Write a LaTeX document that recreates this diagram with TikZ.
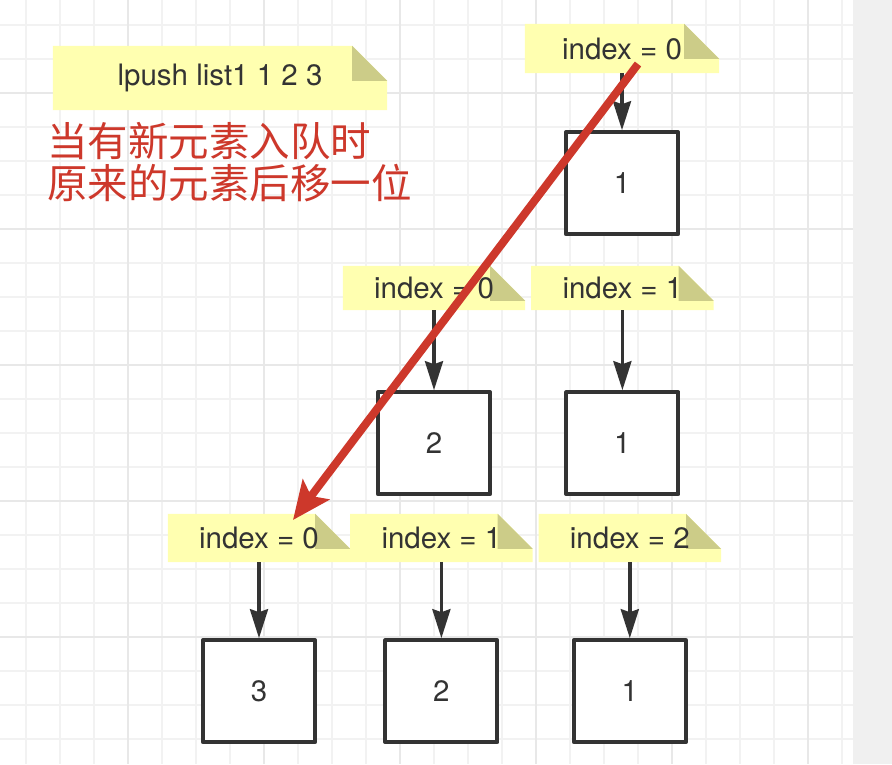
\documentclass[tikz,border=0pt]{standalone}
\usepackage{fontspec}
\setmainfont{TeX Gyre Heros}
\newfontfamily\cjkfont{Noto Sans CJK SC}
\usetikzlibrary{positioning,calc}
\usetikzlibrary{arrows.meta}
\definecolor{notefill}{HTML}{FFFFB0}
\definecolor{notefold}{HTML}{CCCC88}
\definecolor{darkline}{HTML}{333333}
\definecolor{hintred}{RGB}{205,56,43}
\definecolor{gridminor}{HTML}{F2F2F2}
\definecolor{gridmajor}{HTML}{E8E8E8}
\definecolor{panel}{HTML}{F0F0F0}
\pgfdeclarelayer{grid}
\pgfdeclarelayer{paper}
\pgfsetlayers{grid,paper,main}

\begin{document}
\begin{tikzpicture}[x=1pt,y=-1pt,
   note/.style={rectangle, inner sep=0pt, minimum width=182pt, minimum height=48pt,
      text=darkline, font=\fontsize{29.5}{35}\selectfont},
   cell/.style={rectangle, draw=darkline, line width=4pt, line join=round, fill=white,
      minimum width=112pt, minimum height=102pt, inner sep=0pt,
      text=darkline, font=\fontsize{29.5}{35}\selectfont},
   flow/.style={darkline, line width=3.5pt, -{Stealth[length=29pt,width=18pt,inset=3pt]}},
   push/.style={hintred, line width=8pt, -{Stealth[length=38pt,width=33pt,inset=8pt]}},
   hint/.style={inner sep=0pt, text=hintred, font=\cjkfont\fontsize{40.5}{48}\selectfont}]
   \useasboundingbox (0,0) rectangle (892,764);

   % command note and hint
   \node[note, minimum width=334pt, minimum height=64pt] (cmd) at (220,78) {lpush list1 1 2 3};
   \node[hint, anchor=base west] (h0) at (47,156) {当有新元素入队时};
   \node[hint, anchor=base west] (h1) at ($(h0.base west)+(0,42)$) {原来的元素后移一位};

   % after pushing 1
   \node[note, minimum width=194pt, minimum height=49pt] (i0) at (622,48.5) {index = 0};
   \node[cell, below=57pt of i0] (v0) {1};

   % after pushing 2
   \node[note, minimum height=44pt] (i10) at (434,288) {index = 0};
   \node[note, minimum height=44pt, right=6pt of i10] (i11) {index = 1};
   \node[cell, below=80pt of i10] (v10) {2};
   \node[cell, below=80pt of i11] (v11) {1};

   % after pushing 3
   \node[note] (i20) at (259,538) {index = 0};
   \node[note, right=0pt of i20] (i21) {index = 1};
   \node[note, right=6pt of i21] (i22) {index = 2};
   \node[cell, below=76pt of i20] (v20) {3};
   \node[cell, below=76pt of i21] (v21) {2};
   \node[cell, below=76pt of i22] (v22) {1};

   \draw[flow] (i0) -- (v0);
   \draw[flow] (i10) -- (v10);
   \draw[flow] (i11) -- (v11);
   \draw[flow] (i20) -- (v20);
   \draw[flow] (i21) -- (v21);
   \draw[flow] (i22) -- (v22);

   % new element enters at the head
   \coordinate (r0) at (638,64);
   \coordinate (r1) at (293,520);
   \draw[push] (r0) -- (r1);

   % folded notes
   \begin{pgfonlayer}{paper}
      \foreach \n in {cmd,i0,i10,i11,i20,i21,i22}{
         \fill[notefill] (\n.south west) |- ($(\n.north east)+(-35pt,0pt)$)
            -- ($(\n.north east)+(0pt,-35pt)$) -- (\n.south east) -- cycle;
         \fill[notefold] ($(\n.north east)+(-35pt,0pt)$)
            |- ($(\n.north east)+(0pt,-35pt)$) -- cycle;
      }
   \end{pgfonlayer}

   % grid paper
   \begin{pgfonlayer}{grid}
      \fill[white] (0,0) rectangle (892,764);
      \foreach \i in {0,...,24}
         \draw[gridminor, line width=1.6pt] (26+34*\i,0) -- (26+34*\i,764);
      \foreach \j in {0,...,21}
         \draw[gridminor, line width=1.6pt] (0,25+34*\j) -- (853,25+34*\j);
      \foreach \i in {3,7,...,23}
         \draw[gridmajor, line width=1.6pt] (26+34*\i,0) -- (26+34*\i,764);
      \foreach \j in {2,6,...,18}
         \draw[gridmajor, line width=1.6pt] (0,25+34*\j) -- (853,25+34*\j);
      \fill[panel] (853,0) rectangle (892,764);
   \end{pgfonlayer}
\end{tikzpicture}
\end{document}
